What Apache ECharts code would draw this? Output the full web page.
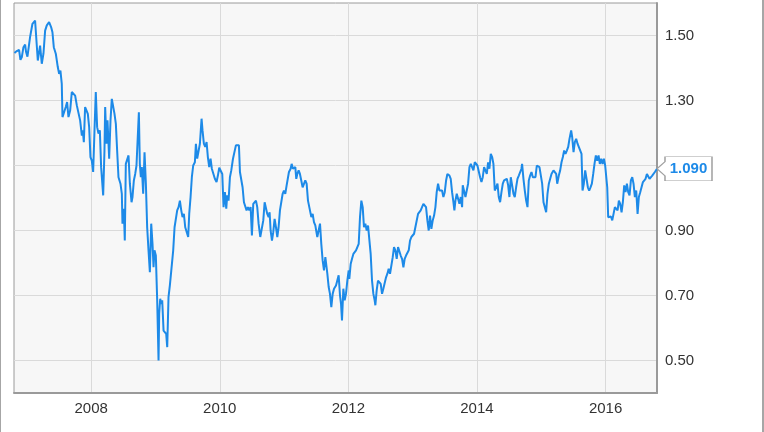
<!DOCTYPE html>
<html><head><meta charset="utf-8">
<script src="https://cdn.jsdelivr.net/npm/echarts@6/dist/echarts.min.js"></script>
<style>
html,body{margin:0;padding:0;background:#fff;}
#wrap{position:relative;width:764px;height:432px;overflow:hidden;}
#chart{position:absolute;left:0;top:0;width:764px;height:432px;}
.edge{position:absolute;top:0;height:432px;background:#a6a6a6;}
</style></head><body>
<div id="wrap">
<div id="chart"></div>
<div class="edge" style="left:0;width:1px"></div>
<div class="edge" style="left:762px;width:2px"></div>
</div>
<script>
// decimal-year dates and values
const dates = [
2006.807,2006.843,2006.879,2006.900,2006.921,2006.947,2006.973,2006.988,2007.009,2007.035,
2007.050,2007.087,2007.128,2007.170,2007.206,2007.232,2007.258,2007.284,2007.310,2007.346,
2007.377,2007.398,2007.419,2007.450,2007.481,2007.502,2007.522,2007.543,2007.554,2007.585,
2007.605,2007.626,2007.647,2007.673,2007.699,2007.730,2007.751,2007.777,2007.803,2007.829,
2007.855,2007.870,2007.886,2007.906,2007.927,2007.948,2007.969,2007.989,2008.010,2008.031,
2008.052,2008.072,2008.093,2008.114,2008.135,2008.155,2008.187,2008.207,2008.218,2008.238,
2008.254,2008.280,2008.301,2008.321,2008.342,2008.363,2008.384,2008.404,2008.425,2008.456,
2008.477,2008.487,2008.508,2008.523,2008.539,2008.560,2008.581,2008.602,2008.628,2008.643,
2008.664,2008.685,2008.705,2008.726,2008.742,2008.757,2008.773,2008.788,2008.809,2008.830,
2008.851,2008.871,2008.892,2008.913,2008.934,2008.954,2008.970,2008.985,2009.006,2009.027,
2009.048,2009.058,2009.074,2009.089,2009.105,2009.126,2009.146,2009.167,2009.183,2009.203,
2009.224,2009.250,2009.276,2009.297,2009.318,2009.338,2009.359,2009.380,2009.401,2009.421,
2009.442,2009.463,2009.483,2009.509,2009.525,2009.546,2009.566,2009.587,2009.613,2009.629,
2009.649,2009.670,2009.691,2009.717,2009.732,2009.753,2009.774,2009.795,2009.815,2009.836,
2009.857,2009.877,2009.898,2009.924,2009.950,2009.971,2009.992,2010.018,2010.039,2010.059,
2010.080,2010.101,2010.116,2010.137,2010.158,2010.179,2010.205,2010.231,2010.251,2010.282,
2010.298,2010.314,2010.334,2010.355,2010.376,2010.397,2010.417,2010.438,2010.459,2010.480,
2010.500,2010.521,2010.542,2010.563,2010.583,2010.604,2010.630,2010.656,2010.677,2010.698,
2010.718,2010.739,2010.760,2010.775,2010.791,2010.812,2010.832,2010.853,2010.874,2010.895,
2010.915,2010.936,2010.957,2010.978,2010.998,2011.019,2011.040,2011.061,2011.076,2011.102,
2011.118,2011.138,2011.154,2011.175,2011.190,2011.206,2011.227,2011.247,2011.268,2011.289,
2011.310,2011.330,2011.351,2011.372,2011.388,2011.403,2011.424,2011.445,2011.465,2011.486,
2011.507,2011.517,2011.538,2011.559,2011.579,2011.600,2011.621,2011.642,2011.657,2011.673,
2011.694,2011.714,2011.735,2011.756,2011.777,2011.797,2011.808,2011.834,2011.849,2011.870,
2011.886,2011.901,2011.922,2011.943,2011.963,2011.984,2012.005,2012.015,2012.036,2012.057,
2012.078,2012.098,2012.119,2012.140,2012.161,2012.181,2012.202,2012.223,2012.243,2012.264,
2012.285,2012.306,2012.326,2012.347,2012.368,2012.389,2012.409,2012.420,2012.440,2012.461,
2012.482,2012.503,2012.524,2012.544,2012.565,2012.586,2012.607,2012.627,2012.648,2012.669,
2012.690,2012.710,2012.731,2012.752,2012.773,2012.793,2012.814,2012.835,2012.856,2012.876,
2012.897,2012.918,2012.939,2012.959,2012.980,2013.001,2013.022,2013.042,2013.063,2013.084,
2013.105,2013.125,2013.146,2013.167,2013.188,2013.208,2013.229,2013.250,2013.270,2013.291,
2013.312,2013.333,2013.354,2013.374,2013.395,2013.416,2013.437,2013.457,2013.478,2013.499,
2013.520,2013.540,2013.551,2013.572,2013.592,2013.613,2013.634,2013.649,2013.665,2013.686,
2013.707,2013.727,2013.748,2013.769,2013.779,2013.800,2013.821,2013.841,2013.862,2013.883,
2013.904,2013.924,2013.945,2013.966,2013.987,2014.007,2014.028,2014.049,2014.070,2014.090,
2014.111,2014.132,2014.153,2014.173,2014.194,2014.215,2014.236,2014.256,2014.277,2014.298,
2014.319,2014.339,2014.360,2014.381,2014.402,2014.422,2014.443,2014.464,2014.485,2014.505,
2014.526,2014.547,2014.568,2014.588,2014.609,2014.630,2014.651,2014.671,2014.692,2014.702,
2014.723,2014.744,2014.765,2014.786,2014.806,2014.827,2014.848,2014.869,2014.889,2014.910,
2014.931,2014.952,2014.972,2014.993,2015.014,2015.035,2015.055,2015.076,2015.097,2015.118,
2015.138,2015.159,2015.190,2015.211,2015.232,2015.248,2015.273,2015.294,2015.315,2015.336,
2015.356,2015.377,2015.398,2015.419,2015.439,2015.465,2015.481,2015.502,2015.522,2015.543,
2015.564,2015.595,2015.626,2015.642,2015.662,2015.683,2015.704,2015.725,2015.745,2015.766,
2015.787,2015.808,2015.828,2015.849,2015.870,2015.891,2015.911,2015.932,2015.953,2015.974,
2015.994,2016.010,2016.026,2016.041,2016.062,2016.083,2016.104,2016.124,2016.145,2016.166,
2016.187,2016.207,2016.228,2016.249,2016.269,2016.290,2016.311,2016.332,2016.352,2016.373,
2016.394,2016.415,2016.435,2016.456,2016.477,2016.498,2016.518,2016.539,2016.560,2016.581,
2016.601,2016.622,2016.643,2016.663,2016.684,2016.705,2016.726,2016.746,2016.767,2016.788,
2016.800
];
const values = [
1.446,1.452,1.456,1.425,1.433,1.464,1.472,1.449,1.435,1.439,
1.495,1.536,1.546,1.423,1.469,1.413,1.444,1.515,1.531,1.541,
1.526,1.510,1.464,1.444,1.403,1.382,1.392,1.351,1.249,1.251,
1.280,1.295,1.249,1.269,1.326,1.331,1.315,1.285,1.290,1.238,
1.192,1.208,1.172,1.280,1.285,1.259,1.218,1.126,1.115,1.080,
1.208,1.326,1.218,1.198,1.208,1.095,1.008,1.146,1.280,1.167,
1.239,1.121,1.239,1.305,1.300,1.259,1.228,1.146,1.064,1.044,
1.013,0.921,0.967,0.869,1.105,1.100,1.131,1.044,0.987,1.003,
1.054,1.074,1.100,1.095,1.264,1.105,1.064,1.095,1.013,1.141,
1.044,0.910,0.839,0.772,0.921,0.859,0.787,0.839,0.823,0.685,
0.500,0.644,0.690,0.674,0.685,0.592,0.587,0.582,0.541,0.695,
0.731,0.731,0.839,0.910,0.915,0.962,0.972,0.992,0.962,0.941,
0.951,0.910,0.910,0.880,0.951,1.003,1.064,1.100,1.110,1.167,
1.121,1.126,1.167,1.244,1.208,1.167,1.157,1.172,1.126,1.095,
1.121,1.090,1.090,1.059,1.049,1.069,1.093,1.090,1.074,0.972,
1.018,0.967,1.008,0.992,1.064,1.085,1.120,1.126,1.162,1.165,
1.162,1.080,1.074,1.033,0.987,0.982,0.962,0.972,0.962,0.972,
0.885,0.982,0.987,0.992,0.972,0.921,0.880,0.885,0.931,0.987,
0.982,0.951,0.941,0.956,0.900,0.869,0.895,0.936,0.910,0.880,
0.910,0.962,0.962,1.013,1.023,1.013,1.039,1.039,1.080,1.090,
1.105,1.090,1.085,1.095,1.059,1.074,1.085,1.074,1.069,1.033,
1.039,1.054,1.044,0.992,0.987,0.992,0.941,0.951,0.926,0.916,
0.921,0.880,0.900,0.921,0.859,0.808,0.777,0.818,0.823,0.767,
0.726,0.705,0.664,0.705,0.721,0.726,0.731,0.726,0.762,0.700,
0.674,0.623,0.721,0.685,0.705,0.746,0.777,0.751,0.797,0.813,
0.828,0.828,0.839,0.849,0.859,0.941,0.992,0.972,0.910,0.921,
0.900,0.915,0.910,0.828,0.746,0.705,0.685,0.670,0.715,0.746,
0.746,0.736,0.705,0.721,0.726,0.756,0.767,0.782,0.767,0.767,
0.818,0.849,0.839,0.813,0.849,0.844,0.823,0.813,0.787,0.813,
0.823,0.818,0.839,0.869,0.880,0.874,0.890,0.910,0.905,0.951,
0.956,0.962,0.972,0.982,0.984,0.972,0.931,0.900,0.946,0.905,
0.931,0.946,0.972,1.018,1.044,1.023,1.018,1.023,1.003,1.018,
1.054,1.074,1.080,1.069,1.059,1.018,0.987,0.962,0.992,1.013,
1.015,0.982,1.003,0.972,1.039,1.033,1.003,1.003,1.044,1.095,
1.105,1.100,1.085,1.110,1.115,1.100,1.105,1.064,1.049,1.064,
1.095,1.090,1.074,1.110,1.090,1.136,1.126,1.105,1.023,1.033,
1.044,1.003,0.987,1.018,1.044,1.054,1.059,1.059,1.039,1.003,
1.064,1.059,1.013,1.003,1.033,1.059,1.069,1.074,1.090,1.105,
1.059,1.023,0.992,0.972,1.054,1.069,1.080,1.064,1.069,1.064,
1.100,1.105,1.095,1.100,1.044,0.987,0.982,0.956,1.013,1.044,
1.049,1.074,1.085,1.090,1.074,1.044,1.069,1.085,1.110,1.126,
1.146,1.136,1.146,1.157,1.182,1.208,1.187,1.141,1.172,1.182,
1.167,1.167,1.136,1.023,1.044,1.085,1.085,1.033,1.023,1.033,
1.044,1.074,1.105,1.131,1.115,1.131,1.105,1.121,1.105,1.121,
1.100,1.095,1.033,0.941,0.936,0.943,0.931,0.931,0.972,0.977,
0.962,0.992,0.982,0.956,0.987,1.039,1.018,1.044,1.018,1.008,
1.054,1.064,1.044,1.003,1.023,0.951,1.003,1.018,1.023,1.049,
1.044,1.059,1.074,1.069,1.059,1.054,1.069,1.074,1.080,1.085,
1.090
];
const xTickYears = [2008, 2010, 2012, 2014, 2016];
const yTickLabels = ['0.50', '0.70', '0.90', '1.30', '1.50'];

const FONT = "'Liberation Sans', Arial, sans-serif";
const LINE = '#1d8ae8';
const chart = echarts.init(document.getElementById('chart'), null, {renderer: 'canvas'});
const xGridColors = ['transparent','transparent','transparent','transparent','transparent','transparent','#dadada','transparent','transparent','transparent'];
const last = dates.length - 1;
chart.setOption({
  animation: false,
  backgroundColor: '#ffffff',
  grid: {left: 14, right: 107, top: 3, bottom: 39, show: true, backgroundColor: '#f7f7f7', borderColor: '#9a9a9a', borderWidth: 1},
  xAxis: {
    type: 'value', min: 2006.8, max: 2016.8, interval: 0.2,
    axisLine: {show: true, onZero: false, lineStyle: {color: '#9a9a9a', width: 2}},
    axisTick: {show: false},
    axisLabel: {
      margin: 8, color: '#333', fontSize: 15, fontFamily: FONT,
      formatter: v => { const r = Math.round(v); return (Math.abs(v - r) < 1e-6 && xTickYears.includes(r)) ? String(r) : ''; }
    },
    splitLine: {show: true, lineStyle: {color: xGridColors, width: 1}}
  },
  yAxis: {
    type: 'value', position: 'right', min: 0.4, max: 1.6, interval: 0.1,
    axisLine: {show: true, lineStyle: {color: '#9a9a9a', width: 2}},
    axisTick: {show: false},
    axisLabel: {
      margin: 8, color: '#333', fontSize: 15, fontFamily: FONT,
      formatter: v => { const s = v.toFixed(2); return yTickLabels.includes(s) ? s : ''; }
    },
    splitLine: {show: true, lineStyle: {color: ['transparent', '#dadada'], width: 1}}
  },
  series: [{
    type: 'line',
    data: dates.map((d, i) => [d, values[i]]),
    showSymbol: false,
    symbol: 'none',
    lineStyle: {color: LINE, width: 2},
    z: 3,
    markPoint: {
      silent: true,
      symbol: 'path://M0,12 L8,5 L8,0 L55,0 L55,24 L8,24 L8,19 Z',
      symbolSize: [55, 24],
      symbolOffset: ['50%', 0],
      itemStyle: {color: '#ffffff', borderColor: '#a0a0a0', borderWidth: 1},
      label: {show: true, position: 'inside', offset: [4, 0], color: LINE, fontWeight: 'bold', fontSize: 15, fontFamily: FONT,
        formatter: p => Number(p.value).toFixed(3)},
      data: [{coord: [dates[last], values[last]], value: values[last]}]
    }
  }]
});
</script>
</body></html>
